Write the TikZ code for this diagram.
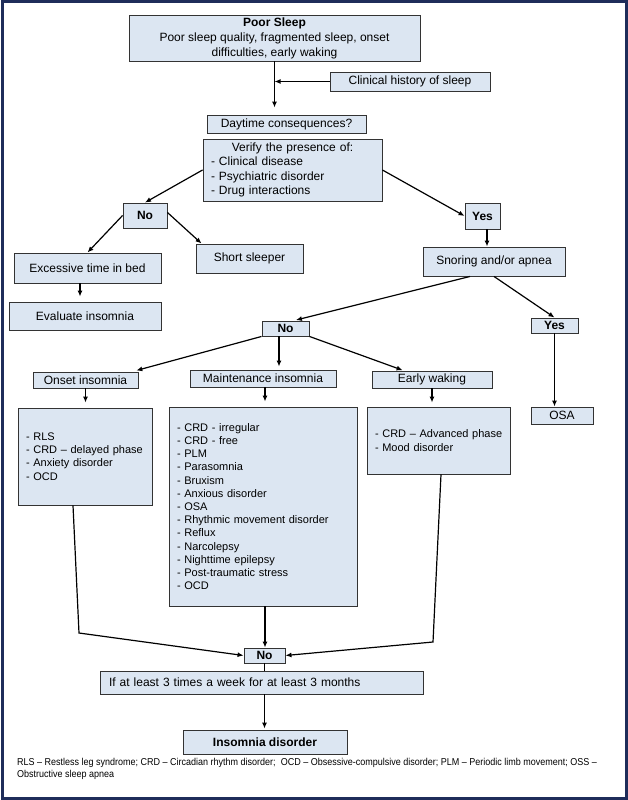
\documentclass[tikz,border=0pt]{standalone}
\usepackage{fontspec}
\setmainfont{Liberation Sans}
\newfontfamily\fnfont[FakeStretch=0.9]{Liberation Sans}
\usetikzlibrary{arrows.meta}
\definecolor{boxfill}{HTML}{DCE6F2}
\definecolor{framecol}{HTML}{1F2D5A}
\definecolor{boxline}{HTML}{333333}
\tikzset{
 box/.style={draw=boxline, fill=boxfill, line width=0.9pt, inner sep=0pt, align=center, font=\fontsize{12}{14}\selectfont},
 bbox/.style={box, font=\fontsize{12}{14}\selectfont\bfseries},
 listbox/.style={box, align=left, inner xsep=8pt, font=\fontsize{11}{13.2}\selectfont},
 arr/.style={line width=1.2pt, -{Latex[length=6pt,width=5pt]}},
 ln/.style={line width=1.2pt},
}
\begin{document}
\begin{tikzpicture}[x=1pt,y=-1pt]
\useasboundingbox (0,0) rectangle (628,800);
\draw[framecol, line width=3pt] (2,2) rectangle (626,798);

% nodes
\node[box, minimum width=291pt, minimum height=46pt, font=\fontsize{12}{15}\selectfont] (ps) at (274.5,38)
  {{\bfseries Poor Sleep}\\Poor sleep quality, fragmented sleep, onset\\difficulties, early waking};
\node[box, minimum width=160pt, minimum height=19pt] (ch) at (410,81.5) {Clinical history of sleep};
\node[box, minimum width=159pt, minimum height=18pt] (dc) at (286.5,124) {Daytime consequences?};
\node[listbox, text width=163pt, minimum height=62pt, font=\fontsize{12}{14.5}\selectfont] (vf) at (292.5,170)
  {\makebox[\hsize]{Verify the presence of:}\\- Clinical disease\\- Psychiatric disorder\\- Drug interactions};
\node[bbox, minimum width=44pt, minimum height=25pt] (no1) at (145,215.5) {No};
\node[bbox, minimum width=35pt, minimum height=26pt] (yes1) at (482.5,216) {Yes};
\node[box, minimum width=147pt, minimum height=30pt] (ex) at (87.5,268) {Excessive time in bed};
\node[box, minimum width=107pt, minimum height=29pt] (ss) at (249.5,258.5) {Short sleeper};
\node[box, minimum width=152pt, minimum height=28pt] (ev) at (85,316) {Evaluate insomnia};
\node[box, minimum width=142pt, minimum height=29pt] (sn) at (494,261.5) {Snoring and/or apnea};
\node[bbox, minimum width=47pt, minimum height=15pt] (no2) at (285.5,328.5) {No};
\node[bbox, minimum width=47pt, minimum height=15pt] (yes2) at (554.5,325.5) {Yes};
\node[box, minimum width=62pt, minimum height=17pt] (osa) at (562,415.5) {OSA};
\node[box, minimum width=105pt, minimum height=16pt] (on) at (85.5,380) {Onset insomnia};
\node[box, minimum width=146pt, minimum height=17pt] (mt) at (263,378.5) {Maintenance insomnia};
\node[box, minimum width=120pt, minimum height=17pt] (ew) at (432,379.5) {Early waking};
\node[listbox, text width=118pt, minimum height=97pt] (onl) at (85,456.5)
  {\mbox{- RLS}\\\mbox{- CRD – delayed phase}\\\mbox{- Anxiety disorder}\\\mbox{- OCD}};
\node[listbox, text width=172pt, minimum height=199pt] (mtl) at (263,506.5)
  {- CRD - irregular\\- CRD - free\\- PLM\\- Parasomnia\\- Bruxism\\- Anxious disorder\\- OSA\\\mbox{- Rhythmic movement disorder}\\- Reflux\\- Narcolepsy\\- Nighttime epilepsy\\- Post-traumatic stress\\- OCD};
\node[listbox, text width=127pt, minimum height=67pt] (ewl) at (438.5,440.5)
  {\mbox{- CRD – Advanced phase}\\\mbox{- Mood disorder}};
\node[bbox, minimum width=41pt, minimum height=15pt] (no3) at (264.5,655.5) {No};
\node[listbox, inner xsep=9pt, text width=305pt, minimum height=23pt, font=\fontsize{12}{14}\selectfont] (if) at (261.5,682.5)
  {If at least 3 times a week for at least 3 months};
\node[bbox, minimum width=164pt, minimum height=24pt] (ins) at (265,742) {Insomnia disorder};

\node[anchor=base west, inner sep=0pt, align=left, font=\fnfont\fontsize{10}{12}\selectfont] (fn) at (17,777.5)
  {RLS – Restless leg syndrome; CRD – Circadian rhythm disorder;\ \ OCD – Obsessive-compulsive disorder; PLM – Periodic limb movement; OSS –\\Obstructive sleep apnea};

% helper coordinates
\coordinate (k1) at (79,633);
\coordinate (k2) at (433,642);

% connectors
\draw[arr, shorten >=7pt] (ps.south) -- (ps.south |- dc.north);
\draw[arr] (ch.west) -- (ch.west -| ps.south);
\draw[arr] (vf.west) -- (no1.north);
\draw[arr] (vf.east) -- (yes1.west);
\draw[arr] (no1.west) -- (ex.north);
\draw[arr] ([yshift=3pt]no1.east) -- ([xshift=6pt]ss.north west);
\draw[arr, shorten >=5pt] ([xshift=-7.5pt]ex.south) -- ([xshift=-7.5pt]ex.south |- ev.north);
\draw[arr] ([xshift=4.5pt]yes1.south) -- ([xshift=4.5pt]yes1.south |- sn.north);
\draw[arr, shorten >=2pt] ([xshift=-24pt]sn.south) -- ([xshift=8.5pt]no2.north);
\draw[arr] (sn.south) -- (yes2.north);
\draw[arr] (yes2.south) -- (yes2.south |- osa.north);
\draw[arr, shorten >=4pt] (no2.south west) -- ([xshift=-6pt]on.north east);
\draw[arr, shorten >=3pt] ([xshift=-6.5pt]no2.south) -- ([xshift=-6.5pt]no2.south |- mt.north);
\draw[arr, shorten >=1pt] (no2.south east) -- ([xshift=32pt]ew.north west);
\draw[arr, shorten >=5pt] (on.south) -- (on.south |- onl.north);
\draw[arr, shorten >=5pt] ([xshift=2pt]mt.south) -- ([xshift=2pt]mt.south |- mtl.north);
\draw[arr, shorten >=4pt] (ew.south) -- (ew.south |- ewl.north);
\draw[arr] ([xshift=-12pt]onl.south) -- (k1) -- (no3.west);
\draw[arr] ([xshift=2.5pt]ewl.south) -- (k2) -- (no3.east);
\draw[arr] ([xshift=2pt]mtl.south) -- ([xshift=2pt]mtl.south |- no3.north);
\draw[ln] (no3.south) -- (no3.south |- if.north);
\draw[arr, shorten >=1pt] (no3.south |- if.south) -- (no3.south |- ins.north);
\end{tikzpicture}
\end{document}
